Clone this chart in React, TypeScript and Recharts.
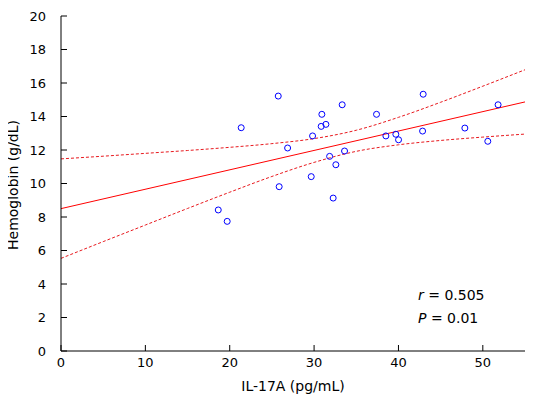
import React from "react";
import { ComposedChart, Scatter, Line, XAxis, YAxis, Label } from "recharts";

// Observed points: IL-17A (pg/mL) vs Hemoglobin (g/dL)
const il17a = [
  25.75, 33.33, 30.92, 37.4, 21.36, 30.84, 31.4, 29.82, 26.86, 33.61, 31.84, 32.58, 29.66,
  25.86, 32.26, 18.64, 19.7, 42.93, 51.81, 38.51, 39.69, 40.01, 42.86, 47.87, 50.59,
];
const hemoglobin = [
  15.22, 14.7, 14.13, 14.13, 13.33, 13.41, 13.53, 12.84, 12.12, 11.94, 11.62, 11.12, 10.41,
  9.81, 9.13, 8.42, 7.74, 15.33, 14.7, 12.84, 12.94, 12.61, 13.13, 13.31, 12.52,
];

// Regression line endpoints
const fitX = [0, 55];
const fitY = [8.5, 14.87];

// Confidence band
const bandX = [0, 5, 10, 15, 20, 25, 30, 35, 40, 45, 50, 55];
const bandUpper = [11.47, 11.63, 11.8, 11.97, 12.16, 12.38, 12.68, 13.18, 13.95, 14.85, 15.81, 16.79];
const bandLower = [5.53, 6.53, 7.52, 8.51, 9.48, 10.42, 11.26, 11.92, 12.31, 12.57, 12.77, 12.95];

const xTicks = [0, 10, 20, 30, 40, 50];
const yTicks = [0, 2, 4, 6, 8, 10, 12, 14, 16, 18, 20];

const scatterData = il17a.map((x, i) => ({ x, y: hemoglobin[i] }));
const fitData = fitX.map((x, i) => ({ x, y: fitY[i] }));
const upperData = bandX.map((x, i) => ({ x, y: bandUpper[i] }));
const lowerData = bandX.map((x, i) => ({ x, y: bandLower[i] }));

const FONT = "'DejaVu Sans', Verdana, sans-serif";

const Dot = (props: any) => (
  <circle cx={props.cx} cy={props.cy} r={3} fill="none" stroke="#0000ff" strokeWidth={1} />
);

export default function App() {
  return (
    <div style={{ position: "relative", width: 533, height: 403, margin: -8, fontFamily: FONT }}>
      <ComposedChart
        width={533}
        height={403}
        margin={{ top: 16, right: 8, left: 8, bottom: 0 }}
      >
        <XAxis
          dataKey="x"
          type="number"
          domain={[0, 55]}
          ticks={xTicks}
          allowDataOverflow
          height={52}
          tickSize={-6}
          tickMargin={13}
          stroke="#000"
          tick={{ fill: "#000", fontSize: 13, fontFamily: FONT }}
        >
          <Label
            content={() => (
              <text x={61 + 232} y={391} textAnchor="middle" fontSize={14} fontFamily={FONT} fill="#000">
                IL-17A (pg/mL)
              </text>
            )}
          />
        </XAxis>
        <YAxis
          dataKey="y"
          type="number"
          domain={[0, 20]}
          ticks={yTicks}
          allowDataOverflow
          width={53}
          tickSize={-6}
          tickMargin={21}
          stroke="#000"
          tick={{ fill: "#000", fontSize: 13, fontFamily: FONT }}
        >
          <Label
            content={() => (
              <text
                x={13}
                y={185}
                transform="rotate(-90 13 185)"
                textAnchor="middle"
                dominantBaseline="central"
                fontSize={14}
                fontFamily={FONT}
                fill="#000"
              >
                Hemoglobin (g/dL)
              </text>
            )}
          />
        </YAxis>
        <Line
          data={upperData}
          dataKey="y"
          type="monotone"
          stroke="#e8191e"
          strokeWidth={1}
          strokeDasharray="3 2"
          dot={false}
          activeDot={false}
          isAnimationActive={false}
        />
        <Line
          data={lowerData}
          dataKey="y"
          type="monotone"
          stroke="#e8191e"
          strokeWidth={1}
          strokeDasharray="3 2"
          dot={false}
          activeDot={false}
          isAnimationActive={false}
        />
        <Line
          data={fitData}
          dataKey="y"
          type="linear"
          stroke="#ff0000"
          strokeWidth={1}
          dot={false}
          activeDot={false}
          isAnimationActive={false}
        />
        <Scatter data={scatterData} dataKey="y" shape={<Dot />} isAnimationActive={false} />
      </ComposedChart>
      <svg
        width={533}
        height={403}
        style={{ position: "absolute", left: 0, top: 0, pointerEvents: "none" }}
      >
        <text x={418} y={300} fontSize={14} fontFamily={FONT} fill="#000">
          <tspan fontStyle="italic">r</tspan> = 0.505
        </text>
        <text x={418} y={323} fontSize={14} fontFamily={FONT} fill="#000">
          <tspan fontStyle="italic">P</tspan> = 0.01
        </text>
      </svg>
    </div>
  );
}
